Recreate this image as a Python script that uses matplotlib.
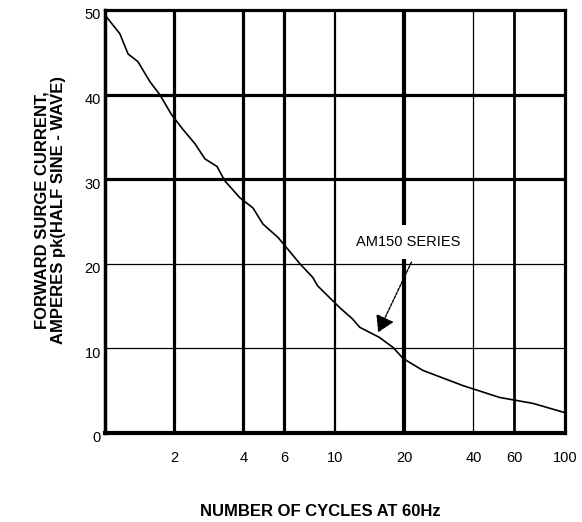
import matplotlib
matplotlib.use("Agg")
import matplotlib.pyplot as plt
import matplotlib.transforms as mtransforms

plt.rcParams['font.family'] = ['Liberation Sans', 'DejaVu Sans']

# Data
cycles = [1.0, 1.16, 1.26, 1.39, 1.57, 1.73, 1.95, 2.18, 2.46, 2.72, 3.07, 3.32,
          3.86, 4.4, 4.86, 5.66, 7.04, 8.0, 8.4, 10.5, 11.9, 12.8, 15.6, 17.9,
          19.8, 24.1, 36.0, 52.0, 72.6, 100.0]
current = [49.4, 47.2, 44.8, 43.9, 41.5, 40.0, 37.6, 35.9, 34.2, 32.4, 31.5, 29.8,
           27.8, 26.6, 24.7, 23.1, 20.0, 18.4, 17.4, 14.8, 13.5, 12.5, 11.3, 10.1,
           8.8, 7.4, 5.6, 4.2, 3.5, 2.4]

x_ticks = [2, 4, 6, 10, 20, 40, 60, 100]
x_tick_labels = ["2", "4", "6", "10", "20", "40", "60", "100"]
y_ticks = [0, 10, 20, 30, 40, 50]
y_tick_labels = ["0", "10", "20", "30", "40", "50"]

x_grid_widths = {2: 2.3, 4: 2.3, 6: 2.3, 10: 1.6, 20: 3.0, 40: 0.9, 60: 2.0}
y_grid_widths = {10: 0.9, 20: 0.9, 30: 2.3, 40: 2.3}

series_label = "AM150 SERIES"
arrow_tail = (21.5, 20.2)
arrow_head = (15.4, 11.9)
label_pos = (20.8, 22.6)

fig = plt.figure(figsize=(5.82, 5.22), dpi=100)
ax = fig.add_axes([105/582, 1 - 433/522, (565 - 105)/582, (433 - 10)/522])

ax.set_xscale('log')
ax.set_xlim(1, 100)
ax.set_ylim(0, 50)

for xv, lw in x_grid_widths.items():
    ax.axvline(xv, color='black', lw=lw, zorder=1)
for yv, lw in y_grid_widths.items():
    ax.axhline(yv, color='black', lw=lw, zorder=1)

ax.plot(cycles, current, color='black', lw=1.2, zorder=4)

ax.text(label_pos[0], label_pos[1], series_label, ha='center', va='center',
        fontsize=10.5, zorder=3,
        bbox=dict(boxstyle='square,pad=0.7', fc='white', ec='none'))
ax.annotate('', xy=arrow_head, xytext=arrow_tail,
            arrowprops=dict(arrowstyle='-|>,head_length=1.0,head_width=0.6',
                            color='black', lw=1.0, linestyle=(0, (2, 1)),
                            shrinkA=0, shrinkB=0), zorder=5)

ax.set_xticks(x_ticks)
ax.set_xticklabels(x_tick_labels)
ax.xaxis.set_minor_locator(matplotlib.ticker.NullLocator())
ax.set_yticks(y_ticks)
ax.set_yticklabels(y_tick_labels)
ax.tick_params(axis='both', length=0, labelsize=10.5)
ax.tick_params(axis='x', pad=13)
ax.tick_params(axis='y', pad=3)

offset = mtransforms.ScaledTranslation(0, -4/100, fig.dpi_scale_trans)
for lbl in ax.get_yticklabels():
    lbl.set_transform(lbl.get_transform() + offset)

for side, lw in {'left': 2.5, 'bottom': 3.0, 'right': 2.3, 'top': 2.3}.items():
    ax.spines[side].set_linewidth(lw)
    ax.spines[side].set_zorder(6)

fig.text(320/582, 1 - 512/522, "NUMBER OF CYCLES AT 60Hz", ha='center', va='center',
         fontsize=12, fontweight='bold')
fig.text(50/582, 1 - 210/522, "FORWARD SURGE CURRENT,\nAMPERES pk(HALF SINE - WAVE)",
         ha='center', va='center', rotation=90, fontsize=12, fontweight='bold',
         linespacing=1.15)

fig.savefig("out.png", dpi=100)
